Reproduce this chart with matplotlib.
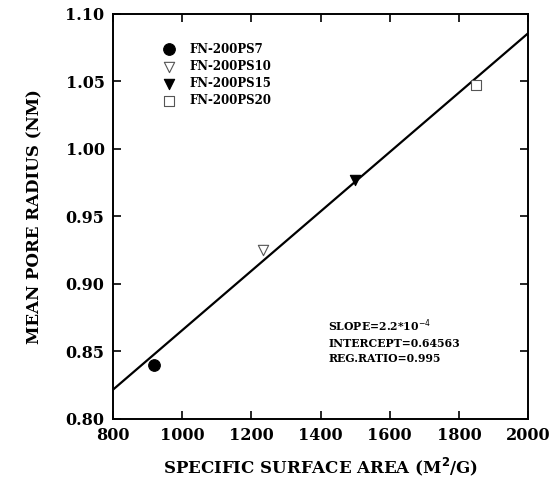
import numpy as np
import matplotlib.pyplot as plt

# data
samples = ["FN-200PS7", "FN-200PS10", "FN-200PS15", "FN-200PS20"]
surface_area = [920, 1235, 1500, 1850]
pore_radius = [0.840, 0.925, 0.977, 1.047]
markers = ["o", "v", "v", "s"]
filled = [True, False, True, False]

slope = 2.2e-4
intercept = 0.64563
x_ticks = [800, 1000, 1200, 1400, 1600, 1800, 2000]
y_ticks = [0.80, 0.85, 0.90, 0.95, 1.00, 1.05, 1.10]

FONT = "DejaVu Serif"


def main():
    fig = plt.figure(figsize=(5.59, 4.90), dpi=100)
    ax = fig.add_axes([0.202, 0.145, 0.743, 0.827])

    # regression line over the full x range
    x_line = np.array([x_ticks[0], x_ticks[-1]])
    ax.plot(x_line, intercept + slope * x_line, c="black", lw=1.6, zorder=2)

    for name, x, y, m, f in zip(samples, surface_area, pore_radius, markers, filled):
        size = 70 if m == "o" else 55
        ax.scatter(
            x, y, marker=m, s=size,
            facecolor="black" if f else "white",
            edgecolor="black" if f else "#555555",
            linewidths=0.8, label=name, zorder=3,
        )

    ax.set_xlim(800, 2000)
    ax.set_ylim(0.80, 1.10)
    ax.set_xticks(x_ticks)
    ax.set_yticks(y_ticks)
    ax.set_xticklabels([str(v) for v in x_ticks])
    ax.set_yticklabels([f"{v:.2f}" for v in y_ticks])
    ax.tick_params(direction="in", top=True, right=True, length=6, width=1.2,
                   labelsize=11.5, pad=6)
    for lab in ax.get_xticklabels() + ax.get_yticklabels():
        lab.set_fontfamily(FONT)
        lab.set_fontweight("bold")
    for sp in ax.spines.values():
        sp.set_linewidth(1.4)

    ax.set_xlabel("SPECIFIC SURFACE AREA (M$^{\\mathbf{2}}$/G)", fontsize=12,
                  fontweight="bold", family=FONT, labelpad=8)
    ax.set_ylabel("MEAN PORE RADIUS (NM)", fontsize=12, fontweight="bold",
                  family=FONT, labelpad=16)

    ax.legend(loc="upper left", bbox_to_anchor=(0.08, 0.955), frameon=False,
              handletextpad=0.8, labelspacing=0.35,
              prop={"family": FONT, "weight": "bold", "size": 8.5})

    ax.text(0.518, 0.25, "SLOPE=2.2*10$^{-4}$\nINTERCEPT=0.64563\nREG.RATIO=0.995",
            transform=ax.transAxes, fontsize=7.8, fontweight="bold", family=FONT,
            va="top", ha="left", linespacing=1.45)

    fig.savefig("out.png", dpi=100)


if __name__ == "__main__":
    main()
